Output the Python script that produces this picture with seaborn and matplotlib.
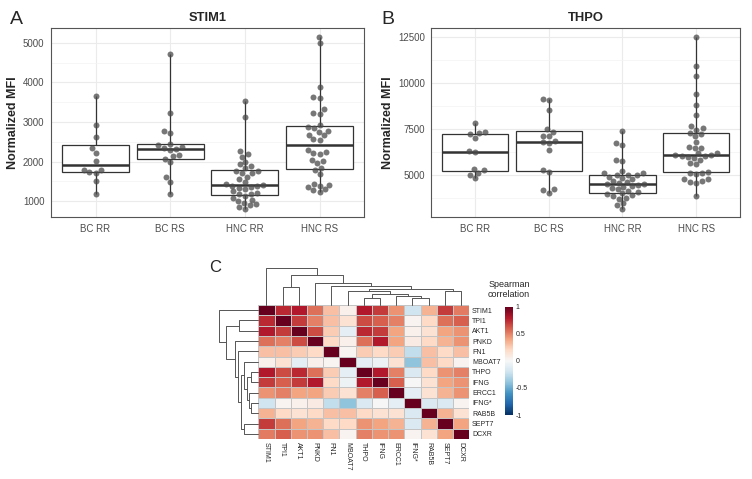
import numpy as np
import pandas as pd
import seaborn as sns
import matplotlib
matplotlib.use("Agg")
import matplotlib.pyplot as plt
from matplotlib.ticker import MultipleLocator

# ---- data ----
groups = ["BC RR", "BC RS", "HNC RR", "HNC RS"]

stim1_bc_rr = [1180, 1510, 1720, 1740, 1780, 1800, 2020, 2210, 2340, 2630, 2930, 3650]
stim1_bc_rs = [1170, 1480, 1600, 1990, 2070, 2130, 2170, 2300, 2320, 2350, 2380,
               2410, 2450, 2720, 2770, 3240, 4730]
stim1_hnc_rr = [810, 850, 900, 920, 960, 1000, 1040, 1090, 1130, 1170, 1190, 1210,
                1250, 1300, 1330, 1360, 1380, 1395, 1420, 1440, 1480, 1550, 1620,
                1700, 1720, 1760, 1770, 1840, 1880, 1930, 1990, 2120, 2200, 2260,
                3120, 3530]
stim1_hnc_rs = [1230, 1270, 1300, 1360, 1390, 1420, 1440, 1690, 1800, 1850, 1970,
                2010, 2040, 2200, 2220, 2240, 2300, 2550, 2570, 2660, 2680, 2760,
                2780, 2850, 2870, 2920, 3210, 3230, 3320, 3610, 3640, 3880, 5000,
                5150]

thpo_bc_rr = [4820, 4980, 5100, 5250, 5310, 6230, 6290, 7010, 7210, 7280, 7320, 7820]
thpo_bc_rs = [4050, 4170, 4230, 5180, 5270, 6350, 6750, 6780, 6830, 7100, 7140,
              7350, 7500, 8540, 9050, 9120]
thpo_hnc_rr = [3180, 3360, 3500, 3720, 3780, 3870, 3900, 3960, 4020, 4070, 4140,
               4230, 4310, 4350, 4400, 4450, 4500, 4530, 4590, 4620, 4680, 4770,
               4860, 4920, 4980, 4990, 5010, 5090, 5130, 5220, 5750, 5790, 6650,
               6710, 7410]
thpo_hnc_rs = [3870, 4550, 4620, 4680, 4770, 4800, 5040, 5090, 5100, 5140, 5580,
               5670, 5840, 5940, 5990, 6020, 6050, 6070, 6090, 6170, 6210, 6440,
               6480, 6510, 6780, 7100, 7250, 7300, 7460, 7550, 7640, 8270, 8810,
               9410, 10380, 10880, 12480]

genes = ["STIM1", "TPI1", "AKT1", "PNKD", "FN1", "MBOAT7", "THPO", "IFNG",
         "ERCC1", "IFNG*", "RAB5B", "SEPT7", "DCXR"]

# upper triangle of the Spearman matrix (row i, columns i+1 .. end)
corr_upper = [
    [0.75, 0.80, 0.55, 0.30, 0.05, 0.80, 0.70, 0.45, -0.20, 0.35, 0.70, 0.52],
    [0.70, 0.50, 0.30, 0.15, 0.65, 0.60, 0.50, 0.03, 0.20, 0.55, 0.60],
    [0.65, 0.25, -0.10, 0.75, 0.70, 0.40, 0.05, 0.15, 0.40, 0.45],
    [0.20, 0.05, 0.55, 0.80, 0.40, 0.08, 0.20, 0.35, 0.45],
    [0.02, 0.25, 0.20, 0.25, -0.25, 0.30, 0.20, 0.30],
    [-0.10, -0.05, 0.15, -0.40, 0.30, 0.20, 0.03],
    [0.80, 0.50, -0.15, 0.20, 0.45, 0.50],
    [0.60, 0.00, 0.15, 0.40, 0.45],
    [-0.10, 0.15, 0.35, 0.45],
    [-0.15, -0.15, 0.03],
    [0.35, 0.15],
    [0.40],
]

# hierarchical clustering: (left, right, height); leaves 0..12, new nodes 13..
merges = [
    (6, 7, 7.0),
    (9, 10, 7.0),
    (8, 14, 9.0),
    (13, 15, 11.0),
    (11, 12, 13.7),
    (5, 16, 13.7),
    (18, 17, 16.3),
    (1, 2, 18.0),
    (4, 19, 19.0),
    (3, 21, 22.3),
    (20, 22, 30.3),
    (0, 23, 37.0),
]


def long_frame(values_by_group):
    rows = []
    for g, vals in zip(groups, values_by_group):
        for v in vals:
            rows.append((g, v))
    return pd.DataFrame(rows, columns=["group", "value"])


def dendro_segments(merges, n):
    xpos = {i: i + 0.5 for i in range(n)}
    hgt = {i: 0.0 for i in range(n)}
    segs = []
    for k, (a, b, h) in enumerate(merges):
        node = n + k
        segs.append(([xpos[a], xpos[a], xpos[b], xpos[b]], [hgt[a], h, h, hgt[b]]))
        xpos[node] = (xpos[a] + xpos[b]) / 2
        hgt[node] = h
    return segs


sns.set_theme(style="white")
plt.rcParams["font.family"] = ["Liberation Sans", "DejaVu Sans"]

W, H = 752, 479
fig = plt.figure(figsize=(W / 100, H / 100), dpi=100)


def px_axes(left, top, right, bottom):
    return fig.add_axes([left / W, 1 - bottom / H, (right - left) / W, (bottom - top) / H])


def box_panel(ax, df, title, major):
    sns.boxplot(data=df, x="group", y="value", order=groups, ax=ax, whis=(0, 100),
                showfliers=False, showcaps=False, width=0.9, color="white",
                linecolor="#333333", linewidth=0.9, medianprops={"linewidth": 1.8})
    sns.swarmplot(data=df, x="group", y="value", order=groups, ax=ax,
                  color="#4a4a4a", alpha=0.75, size=4.3, linewidth=0)
    lo, hi = df["value"].min(), df["value"].max()
    pad = 0.05 * (hi - lo)
    ax.set_ylim(lo - pad, hi + pad)
    ax.set_xlim(-0.6, 3.6)
    ax.yaxis.set_major_locator(MultipleLocator(major))
    ax.yaxis.set_minor_locator(MultipleLocator(major / 2))
    ax.set_axisbelow(True)
    ax.yaxis.grid(True, which="major", color="#EBEBEB", lw=0.8)
    ax.yaxis.grid(True, which="minor", color="#F3F3F3", lw=0.5)
    ax.xaxis.grid(True, which="major", color="#EBEBEB", lw=0.8)
    ax.tick_params(axis="both", which="major", length=2.5, width=0.6, color="#333333",
                   labelsize=7, labelcolor="#4d4d4d", pad=2)
    ax.tick_params(axis="y", which="minor", length=0)
    for s in ax.spines.values():
        s.set_visible(True)
        s.set_color("#555555")
        s.set_linewidth(0.8)
    ax.set_xlabel("")
    ax.set_ylabel("Normalized MFI", fontsize=9, fontweight="bold", labelpad=3)
    ax.set_title(title, fontsize=9.3, fontweight="bold", pad=5)


ax_a = px_axes(50.7, 28.3, 364.3, 217.3)
box_panel(ax_a, long_frame([stim1_bc_rr, stim1_bc_rs, stim1_hnc_rr, stim1_hnc_rs]), "STIM1", 1000)

ax_b = px_axes(431, 28.3, 740.3, 217.3)
box_panel(ax_b, long_frame([thpo_bc_rr, thpo_bc_rs, thpo_hnc_rr, thpo_hnc_rs]), "THPO", 2500)

# ---- panel C: clustered correlation heatmap ----
n = len(genes)
mat = np.eye(n)
for i, row in enumerate(corr_upper):
    for j, v in enumerate(row):
        mat[i, i + 1 + j] = v
        mat[i + 1 + j, i] = v
corr = pd.DataFrame(mat, index=genes, columns=genes)

ax_h = px_axes(258.3, 305, 469.3, 439)
cax = px_axes(505, 306.7, 512.7, 415)
sns.heatmap(corr, ax=ax_h, cmap="RdBu_r", vmin=-1, vmax=1, cbar_ax=cax,
            linewidths=0.5, linecolor="#c4c4c4", xticklabels=True, yticklabels=True)
ax_h.yaxis.tick_right()
ax_h.tick_params(axis="y", labelrotation=0, labelsize=5)
ax_h.tick_params(axis="x", labelrotation=270, labelsize=5)
ax_h.tick_params(length=0, pad=2)
ax_h.set_xlabel("")
ax_h.set_ylabel("")

cbar = ax_h.collections[0].colorbar
cbar.outline.set_visible(False)
cax.set_yticks([-1, -0.5, 0, 0.5, 1])
cax.set_yticklabels(["-1", "-0.5", "0", "0.5", "1"])
cax.tick_params(length=0, labelsize=5, pad=2)
cax.set_title("Spearman\ncorrelation", fontsize=6.5, pad=7, linespacing=1.1)

segs = dendro_segments(merges, n)
ax_ct = px_axes(258.3, 268, 469.3, 305)
ax_rw = px_axes(219.3, 305, 258.3, 439)
for xs, ys in segs:
    ax_ct.plot(xs, ys, color="#555555", lw=0.7, clip_on=False)
    ax_rw.plot(ys, xs, color="#555555", lw=0.7, clip_on=False)
ax_ct.set_xlim(0, n)
ax_ct.set_ylim(0, 37)
ax_rw.set_ylim(n, 0)
ax_rw.set_xlim(37, 0)
ax_ct.axis("off")
ax_rw.axis("off")

fig.text(10 / W, 1 - 19 / H, "A", fontsize=14, va="center", ha="left")
fig.text(381 / W, 1 - 19 / H, "B", fontsize=14, va="center", ha="left")
fig.text(209 / W, 1 - 268 / H, "C", fontsize=12, va="center", ha="left")

fig.savefig("out.png", dpi=100)
